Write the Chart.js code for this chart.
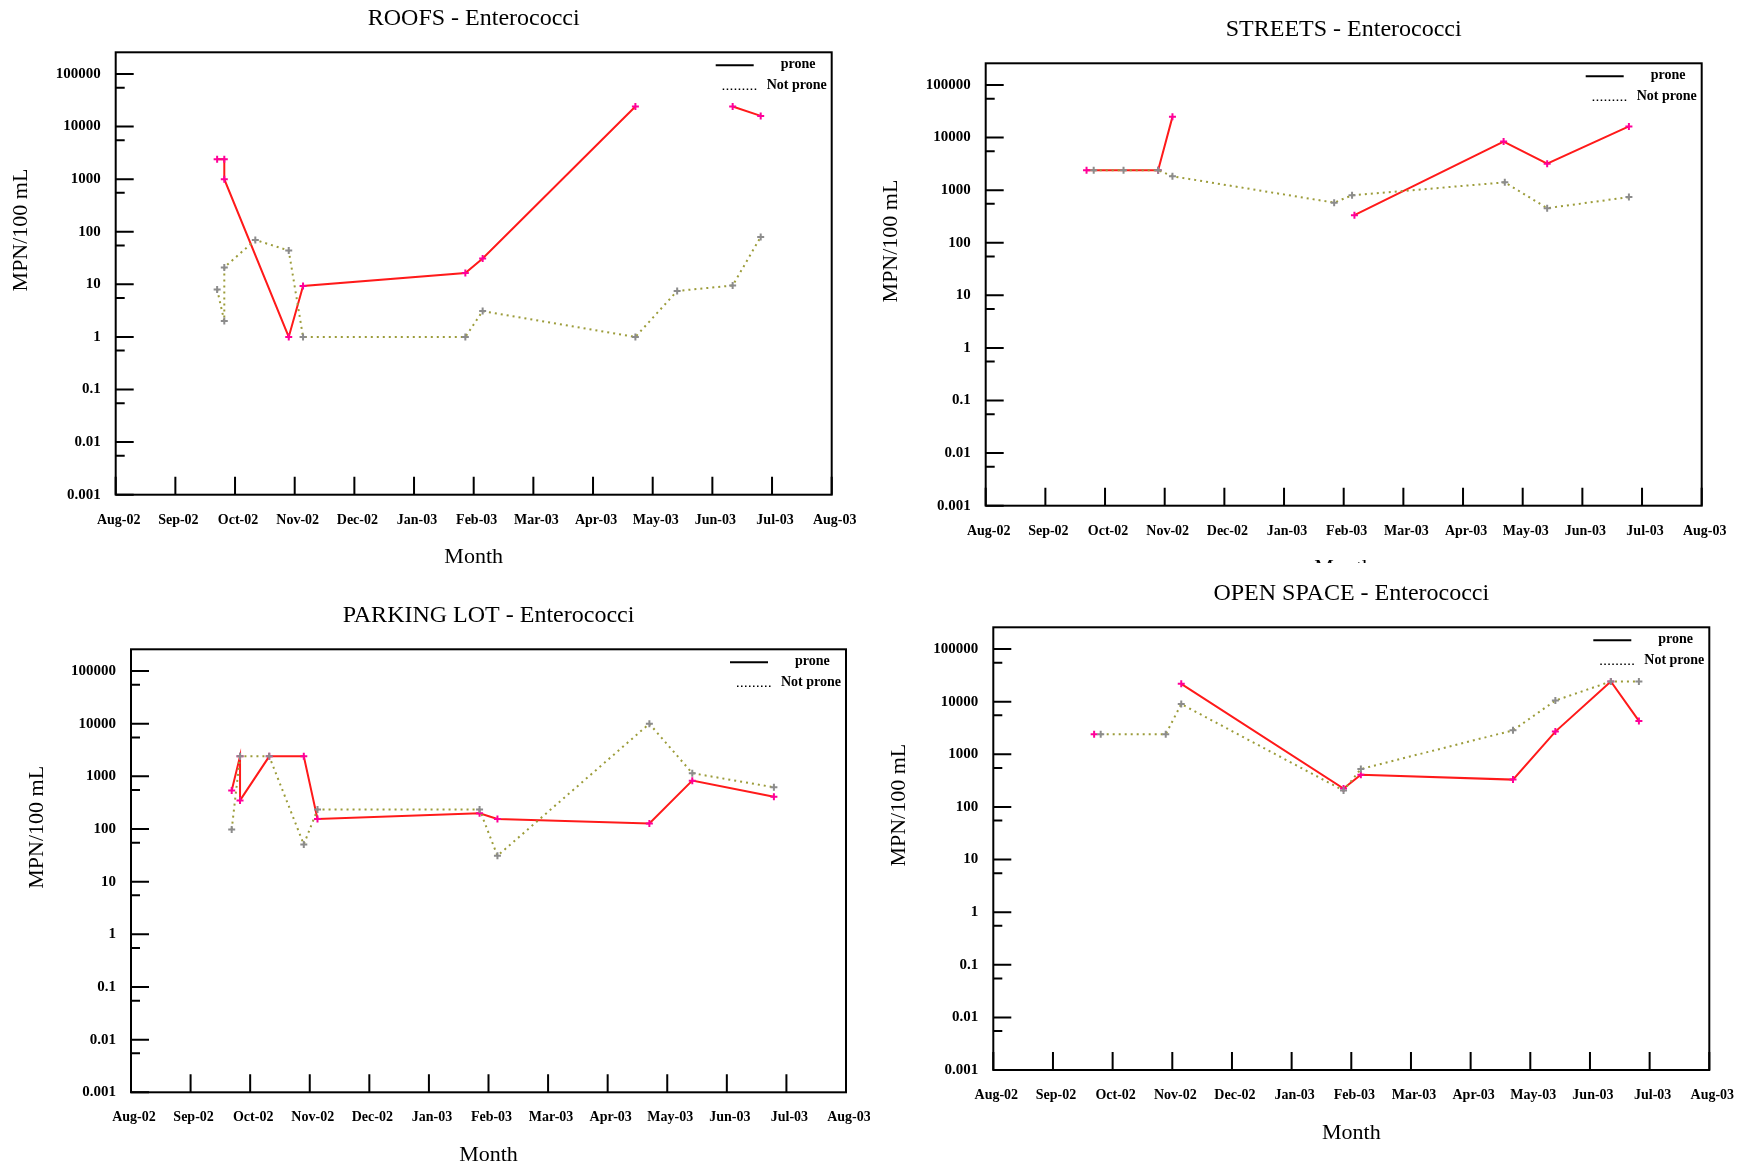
<!DOCTYPE html>
<html>
<head>
<meta charset="utf-8">
<title>Enterococci</title>
<script src="https://cdn.jsdelivr.net/npm/chart.js@4.4.1/dist/chart.umd.min.js"></script>
<style>
  html, body { margin: 0; padding: 0; background: #fff; width: 1747px; height: 1167px; overflow: hidden; }
  canvas { position: absolute; }
</style>
</head>
<body>
<canvas id="roofs"></canvas>
<canvas id="streets"></canvas>
<canvas id="parking"></canvas>
<canvas id="openSpace"></canvas>
<script>
// x is in months: 0 = Aug-02 ... 12 = Aug-03
const months = ['Aug-02', 'Sep-02', 'Oct-02', 'Nov-02', 'Dec-02', 'Jan-03', 'Feb-03',
                'Mar-03', 'Apr-03', 'May-03', 'Jun-03', 'Jul-03', 'Aug-03'];
const yTicks = [0.001, 0.01, 0.1, 1, 10, 100, 1000, 10000, 100000];
const yTickLabels = ['0.001', '0.01', '0.1', '1', '10', '100', '1000', '10000', '100000'];
const yMinor = [0.0055, 0.055, 0.55, 5.5, 55, 550, 5500, 55000];

// ROOFS
const roofsProneX = [1.70, 1.82, 1.82, 2.90, 3.14, 5.86, 6.15, 8.71, null, 10.34, 10.81];
const roofsProneY = [2400, 2400, 1000, 1, 9.3, 16.5, 31, 24200, null, 24200, 16000];
const roofsNotX = [1.70, 1.82, 1.82, 2.34, 2.90, 3.14, 5.86, 6.15, 8.71, 9.41, 10.34, 10.81];
const roofsNotY = [8, 2, 21, 70, 44, 1, 1, 3.1, 1, 7.5, 9.5, 80];

// STREETS
const streetsProneX = [1.69, 2.89, 3.13, null, 6.18, 8.68, 9.41, 10.78];
const streetsProneY = [2400, 2400, 24800, null, 335, 8400, 3200, 16300];
const streetsNotX = [1.81, 2.31, 2.89, 3.13, 5.84, 6.14, 8.70, 9.41, 10.78];
const streetsNotY = [2400, 2400, 2400, 1840, 580, 800, 1410, 455, 740];

// PARKING LOT
const parkingProneX = [1.69, 1.83, 1.83, 2.32, 2.90, 3.13, 5.85, 6.15, 8.70, 9.42, 10.79];
const parkingProneY = [540, 2400, 350, 2400, 2400, 155, 200, 155, 128, 830, 410];
const parkingNotX = [1.69, 1.83, 2.32, 2.90, 3.13, 5.85, 6.15, 8.70, 9.42, 10.79];
const parkingNotY = [98, 2400, 2400, 51, 235, 235, 31, 10000, 1150, 620];

// OPEN SPACE
const openProneX = [1.69, null, 3.15, 5.87, 6.16, 8.71, 9.42, 10.35, 10.82];
const openProneY = [2400, null, 21800, 224, 410, 330, 2700, 24200, 4300];
const openNotX = [1.80, 2.89, 3.15, 5.87, 6.16, 8.71, 9.42, 10.35, 10.82];
const openNotY = [2400, 2400, 9000, 205, 525, 2850, 10500, 24200, 24200];

const serif = "'Liberation Serif', 'Times New Roman', serif";

function pts(xs, ys) {
    return xs.map((x, i) => ({ x: x, y: ys[i] }));
}

// frame, inward tick marks, y title and legend drawn inside the plot box
const framePlugin = {
    id: 'frame',
    beforeDraw(chart) {
        const ctx = chart.ctx;
        ctx.save();
        ctx.fillStyle = '#fff';
        ctx.fillRect(0, 0, chart.width, chart.height);
        ctx.restore();
    },
    afterDatasetsDraw(chart) {
        const ctx = chart.ctx;
        const a = chart.chartArea;
        const xs = chart.scales.x, ys = chart.scales.y;
        ctx.save();
        ctx.strokeStyle = '#000';
        ctx.lineWidth = 2;
        ctx.strokeRect(a.left, a.top, a.right - a.left, a.bottom - a.top);
        ctx.beginPath();
        yTicks.forEach(v => {
            const py = ys.getPixelForValue(v);
            ctx.moveTo(a.left, py); ctx.lineTo(a.left + 18, py);
        });
        yMinor.forEach(v => {
            const py = ys.getPixelForValue(v);
            ctx.moveTo(a.left, py); ctx.lineTo(a.left + 9, py);
        });
        months.forEach((m, i) => {
            const px = xs.getPixelForValue(i);
            ctx.moveTo(px, a.bottom); ctx.lineTo(px, a.bottom - 18);
        });
        ctx.stroke();

        // y axis title, sits a bit above the middle like the original
        ctx.save();
        ctx.translate(a.left - 94, (a.top + a.bottom) / 2 - 43.5);
        ctx.rotate(-Math.PI / 2);
        ctx.fillStyle = '#000';
        ctx.font = '22px ' + serif;
        ctx.textAlign = 'center';
        ctx.textBaseline = 'middle';
        ctx.fillText(chart.options.scales.y.title.text, 0, 0);
        ctx.restore();

        // legend
        const ds = chart.data.datasets;
        ctx.font = 'bold 14px ' + serif;
        ctx.fillStyle = '#000';
        ctx.textBaseline = 'middle';
        ctx.textAlign = 'left';
        ctx.lineWidth = 2;
        ctx.setLineDash([]);
        ctx.beginPath();
        ctx.moveTo(a.right - 116, a.top + 13); ctx.lineTo(a.right - 78, a.top + 13);
        ctx.stroke();
        ctx.fillText(ds[0].label, a.right - 51, a.top + 12);
        ctx.lineWidth = 1.5;
        ctx.setLineDash([1.5, 2.5]);
        ctx.beginPath();
        ctx.moveTo(a.right - 109, a.top + 37); ctx.lineTo(a.right - 73, a.top + 37);
        ctx.stroke();
        ctx.fillText(ds[1].label, a.right - 65, a.top + 33);
        ctx.restore();
    }
};

function makeChart(id, title, geo, proneX, proneY, notX, notY) {
    const canvas = document.getElementById(id);
    canvas.width = geo.w;
    canvas.height = geo.h;
    canvas.style.left = geo.x + 'px';
    canvas.style.top = geo.y + 'px';
    const tickFont = { family: serif, size: 14, weight: 'bold' };
    return new Chart(canvas.getContext('2d'), {
        type: 'line',
        data: {
            datasets: [{
                label: 'prone',
                data: pts(proneX, proneY),
                borderColor: '#ff1a1a',
                borderWidth: 2,
                pointStyle: 'cross',
                pointRadius: 3.5,
                pointBorderWidth: 2,
                pointBorderColor: '#ff0099',
                spanGaps: false,
                tension: 0,
                order: 1
            }, {
                label: 'Not prone',
                data: pts(notX, notY),
                borderColor: '#9c9c3a',
                borderWidth: 2,
                borderDash: [2, 4],
                pointStyle: 'cross',
                pointRadius: 3.5,
                pointBorderWidth: 2,
                pointBorderColor: '#8c8c8c',
                spanGaps: false,
                tension: 0,
                order: 0
            }]
        },
        options: {
            responsive: false,
            animation: false,
            events: [],
            layout: {
                padding: { left: 0, top: 0, right: geo.w - geo.r, bottom: geo.h - geo.b - 76.2 }
            },
            plugins: {
                legend: { display: false },
                tooltip: { enabled: false },
                title: {
                    display: true,
                    text: title,
                    color: '#000',
                    fullSize: false,
                    font: { family: serif, size: 24, weight: 'normal', lineHeight: 1.2 },
                    padding: { top: geo.t - 28.8 - 19.6, bottom: 19.6 }
                }
            },
            scales: {
                x: {
                    type: 'linear',
                    min: 0,
                    max: 12,
                    grid: { display: false, drawTicks: false },
                    border: { display: false },
                    afterBuildTicks: s => { s.ticks = months.map((m, i) => ({ value: i })); },
                    ticks: {
                        autoSkip: false, maxRotation: 0, padding: 17, labelOffset: 3,
                        font: tickFont, color: '#000',
                        callback: (v, i) => months[i]
                    },
                    title: {
                        display: true, text: 'Month', color: '#000',
                        font: { family: serif, size: 22, lineHeight: 1.2 }, padding: 0
                    },
                    afterFit: s => { s.height = 76.2; s.paddingLeft = 0; s.paddingRight = 0; }
                },
                y: {
                    type: 'logarithmic',
                    min: 0.001,
                    max: 259000,
                    grid: { display: false, drawTicks: false },
                    border: { display: false },
                    afterBuildTicks: s => { s.ticks = yTicks.map(v => ({ value: v })); },
                    ticks: {
                        autoSkip: false, padding: 15,
                        font: { family: serif, size: 15, weight: 'bold' }, color: '#000',
                        callback: (v, i) => yTickLabels[i]
                    },
                    title: { display: false, text: 'MPN/100 mL' },
                    afterFit: s => { s.width = geo.l; s.paddingTop = 0; s.paddingBottom = 0; }
                }
            }
        },
        plugins: [framePlugin]
    });
}

makeChart('roofs', 'ROOFS - Enterococci',
    { x: 0, y: 0, w: 870, h: 580, l: 115.7, t: 52.3, r: 831.7, b: 494.7 },
    roofsProneX, roofsProneY, roofsNotX, roofsNotY);
makeChart('streets', 'STREETS - Enterococci',
    { x: 870, y: 0, w: 877, h: 600, l: 115.7, t: 63.3, r: 831.7, b: 505.7 },
    streetsProneX, streetsProneY, streetsNotX, streetsNotY);
makeChart('parking', 'PARKING LOT - Enterococci',
    { x: 0, y: 580, w: 870, h: 600, l: 131, t: 69.3, r: 846, b: 512.3 },
    parkingProneX, parkingProneY, parkingNotX, parkingNotY);
makeChart('openSpace', 'OPEN SPACE - Enterococci',
    { x: 870, y: 563, w: 877, h: 604, l: 123.3, t: 64.3, r: 839.3, b: 507 },
    openProneX, openProneY, openNotX, openNotY);
</script>
</body>
</html>
